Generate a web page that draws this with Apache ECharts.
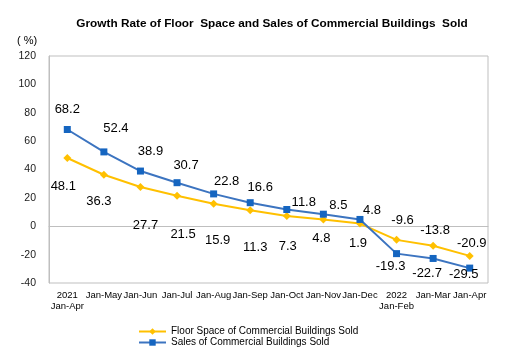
<!DOCTYPE html>
<html>
<head>
<meta charset="utf-8">
<script src="https://cdn.jsdelivr.net/npm/echarts@6/dist/echarts.min.js"></script>
<style>html,body{margin:0;padding:0;background:#fff;}#c{width:512px;height:363px;}</style>
</head>
<body>
<div id="c"></div>
<script>
var categories = ['2021\nJan-Apr','Jan-May','Jan-Jun','Jan-Jul','Jan-Aug','Jan-Sep','Jan-Oct','Jan-Nov','Jan-Dec','2022\nJan-Feb','Jan-Mar','Jan-Apr'];
var floorSpace = [48.1, 36.3, 27.7, 21.5, 15.9, 11.3, 7.3, 4.8, 1.9, -9.6, -13.8, -20.9];
var sales = [68.2, 52.4, 38.9, 30.7, 22.8, 16.6, 11.8, 8.5, 4.8, -19.3, -22.7, -29.5];
var yTicks = [-40, -20, 0, 20, 40, 60, 80, 100, 120];

var floorLabelOffsets = [[-4,28],[-5,27],[5,38],[6,39],[4,37],[5,37],[1,31],[-2,19],[-2,20],[6,-19],[2,-15],[2,-12]];
var salesLabelOffsets = [[0,-20],[12,-23],[10,-20],[9,-17],[13,-12],[10,-15],[17,-7],[15,-9],[12,-9],[-6,13],[-6,15],[-6,6]];

var FONT = 'Liberation Sans, Arial, sans-serif';
var chart = echarts.init(document.getElementById('c'));
function withOffsets(vals, offs) {
  return vals.map(function (v, i) { return { value: v, label: { offset: offs[i] } }; });
}
chart.setOption({
  animation: false,
  title: {
    text: 'Growth Rate of Floor  Space and Sales of Commercial Buildings  Sold',
    left: 267, top: 13, textAlign: 'center',
    textStyle: { fontFamily: FONT, fontSize: 11.8, fontWeight: 'bold', color: '#000' }
  },
  graphic: [{
    type: 'text', left: 17, top: 35,
    style: { text: '( %)', font: '11px ' + FONT, fill: '#000' }
  }],
  legend: {
    orient: 'vertical', left: 133, top: 321, itemGap: 0, itemWidth: 27, itemHeight: 8,
    textStyle: { fontFamily: FONT, fontSize: 10, color: '#000', lineHeight: 11 },
    data: ['Floor Space of Commercial Buildings Sold', 'Sales of Commercial Buildings Sold']
  },
  grid: { left: 49, right: 24, top: 56, bottom: 80, show: true, borderColor: '#bfbfbf', borderWidth: 1 },
  xAxis: {
    type: 'category', data: categories, boundaryGap: true,
    axisLine: { lineStyle: { color: '#bfbfbf' } },
    axisTick: { inside: true, length: 4, lineStyle: { color: '#bfbfbf' } },
    axisLabel: { interval: 0, margin: 7, fontFamily: FONT, fontSize: 9.5, color: '#000', lineHeight: 11 }
  },
  yAxis: {
    type: 'value', min: yTicks[0], max: yTicks[yTicks.length - 1], interval: 20,
    axisLine: { show: true, lineStyle: { color: '#bfbfbf' } },
    axisTick: { show: false },
    splitLine: { show: false },
    axisLabel: { margin: 13, fontFamily: FONT, fontSize: 10.5, color: '#1a1a1a' }
  },
  series: [{
    name: 'Floor Space of Commercial Buildings Sold',
    type: 'line', data: withOffsets(floorSpace, floorLabelOffsets),
    symbol: 'diamond', symbolSize: 8,
    itemStyle: { color: '#FFC000' },
    lineStyle: { color: '#FFC000', width: 2 },
    label: { show: true, position: 'inside', fontFamily: FONT, fontSize: 13, color: '#000' },
    z: 2
  }, {
    name: 'Sales of Commercial Buildings Sold',
    type: 'line', data: withOffsets(sales, salesLabelOffsets),
    symbol: 'rect', symbolSize: 7,
    itemStyle: { color: '#1565C0' },
    lineStyle: { color: '#3C74C0', width: 2 },
    label: { show: true, position: 'inside', fontFamily: FONT, fontSize: 13, color: '#000' },
    z: 3
  }]
});
</script>
</body>
</html>
